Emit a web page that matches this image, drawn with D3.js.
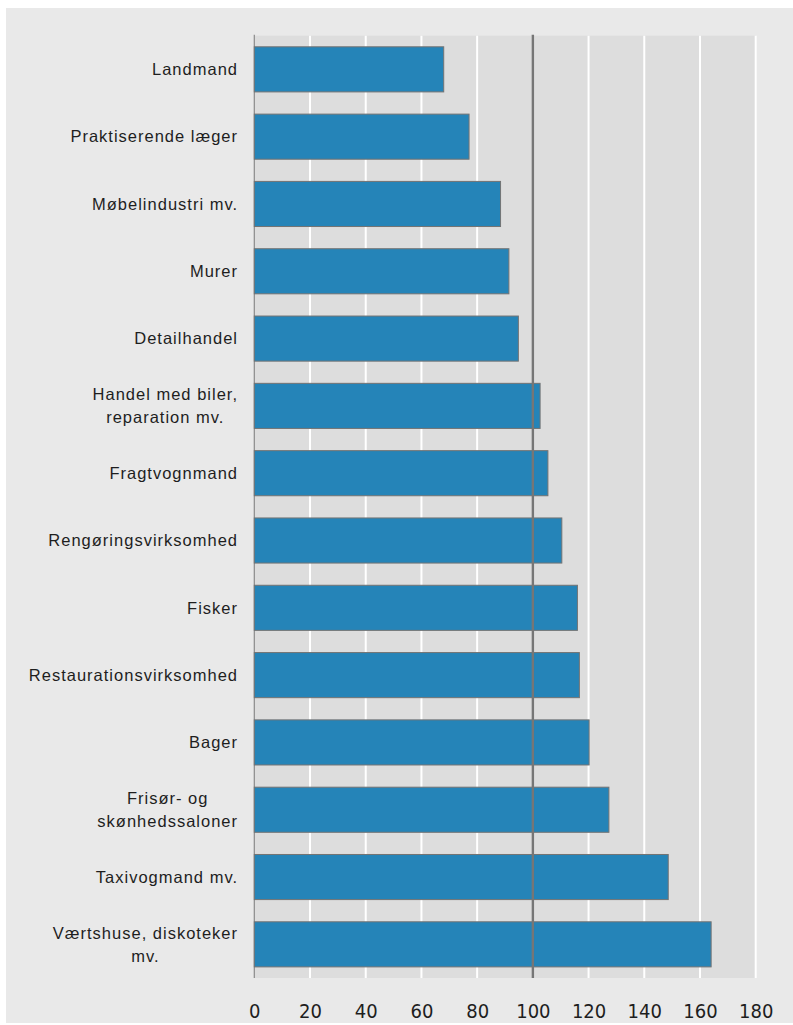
<!DOCTYPE html>
<html>
<head>
<meta charset="utf-8">
<script src="https://cdn.jsdelivr.net/npm/d3@7"></script>
<style>
  html, body { margin: 0; padding: 0; background: #ffffff; }
  svg { display: block; }
</style>
</head>
<body>
<svg id="chart" width="793" height="1025"></svg>
<script>
// ---- data ----
const categories = [
  "Landmand",
  "Praktiserende læger",
  "Møbelindustri mv.",
  "Murer",
  "Detailhandel",
  "Handel med biler,|reparation mv.",
  "Fragtvognmand",
  "Rengøringsvirksomhed",
  "Fisker",
  "Restaurationsvirksomhed",
  "Bager",
  "Frisør- og|skønhedssaloner",
  "Taxivogmand mv.",
  "Værtshuse, diskoteker|mv."
];
const values = [68, 77.1, 88.4, 91.4, 94.8, 102.6, 105.4, 110.4, 116.0, 116.7, 120.2, 127.3, 148.6, 164.0];
const tickValues = [0, 20, 40, 60, 80, 100, 120, 140, 160, 180];
const referenceValue = 100;

// ---- layout ----
const svg = d3.select("#chart");
const W = 793, H = 1025;
const plot = { left: 254.3, right: 755.7, top: 35.7, bottom: 978 };

svg.append("rect").attr("x", 6).attr("y", 8).attr("width", W - 6).attr("height", H - 10)
  .attr("fill", "#e9e9e9");

const x = d3.scaleLinear().domain([0, 180]).range([plot.left, plot.right]);
const y = d3.scaleBand().domain(d3.range(categories.length))
  .range([plot.top, plot.bottom]).paddingInner(0.33).paddingOuter(0.165);

// plot background
svg.append("rect")
  .attr("x", plot.left).attr("y", plot.top)
  .attr("width", plot.right - plot.left).attr("height", plot.bottom - plot.top)
  .attr("fill", "#dddddd");

// grid lines
svg.append("g").selectAll("line").data(tickValues.filter(d => d > 0))
  .join("line")
  .attr("x1", d => x(d)).attr("x2", d => x(d))
  .attr("y1", plot.top).attr("y2", plot.bottom)
  .attr("stroke", "#ffffff").attr("stroke-width", 2);

// axis line at 0
svg.append("line")
  .attr("x1", x(0)).attr("x2", x(0)).attr("y1", plot.top - 1).attr("y2", plot.bottom)
  .attr("stroke", "#8a8a8a").attr("stroke-width", 1.2);

// bars
svg.append("g").selectAll("rect").data(values)
  .join("rect")
  .attr("x", x(0))
  .attr("y", (d, i) => y(i))
  .attr("width", d => x(d) - x(0))
  .attr("height", y.bandwidth())
  .attr("fill", "#2584b8")
  .attr("stroke", "#737373")
  .attr("stroke-width", 1);

// reference line at 100
svg.append("line")
  .attr("x1", x(referenceValue)).attr("x2", x(referenceValue))
  .attr("y1", plot.top - 1).attr("y2", plot.bottom)
  .attr("stroke", "#767676").attr("stroke-width", 2.4);

// x-axis tick labels
const xAxis = d3.axisBottom(x).tickValues(tickValues).tickSize(0).tickPadding(0);
const gx = svg.append("g").attr("transform", `translate(0, ${plot.bottom})`).call(xAxis);
gx.select(".domain").remove();
gx.selectAll("text")
  .attr("y", 39.5).attr("dy", 0)
  .attr("fill", "#1e1e1e")
  .style("font-family", "'Liberation Sans Narrow', 'Arial Narrow', 'DejaVu Sans Condensed', sans-serif")
  .style("font-size", "20px");

// category labels
const labelRight = 238;
const lineGap = 23;
const gl = svg.append("g")
  .style("font-family", "'Liberation Sans', Arial, sans-serif")
  .style("font-size", "16.5px")
  .style("letter-spacing", "1px")
  .attr("fill", "#1e1e1e");

categories.forEach((c, i) => {
  const lines = c.split("|");
  const cy = y(i) + y.bandwidth() / 2;
  if (lines.length === 1) {
    gl.append("text").attr("x", labelRight).attr("y", cy).attr("dy", "0.35em")
      .attr("text-anchor", "end").text(lines[0]);
  } else {
    const t = gl.append("text").attr("text-anchor", "middle");
    const spans = lines.map((l, k) => t.append("tspan").attr("y", cy + (k - (lines.length - 1) / 2) * lineGap)
      .attr("dy", "0.35em").text(l));
    const maxW = d3.max(spans, s => s.node().getComputedTextLength());
    spans.forEach(s => s.attr("x", labelRight - maxW / 2));
  }
});
</script>
</body>
</html>
